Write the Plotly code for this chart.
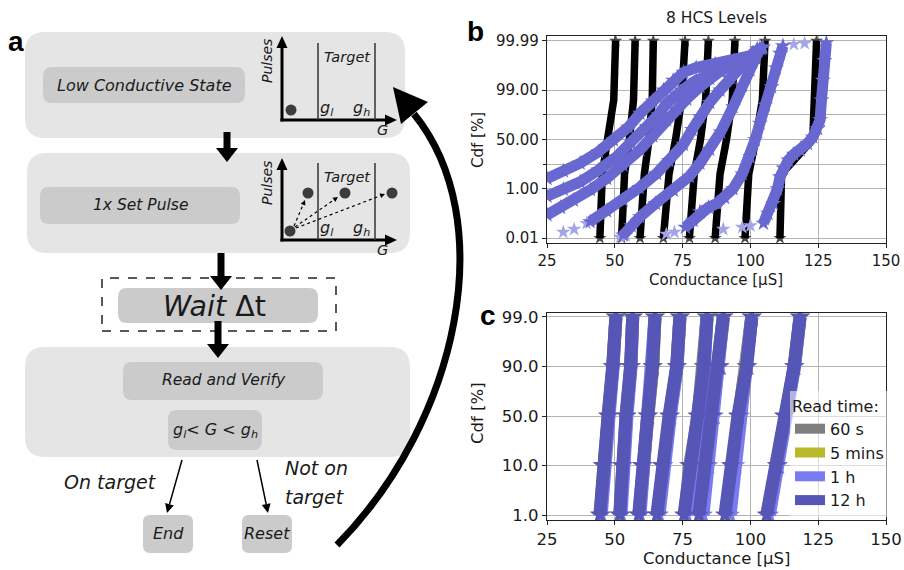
import plotly.graph_objects as go

W, H = 904, 570

# ---------------- panel b: 8 HCS levels ----------------
X_TICKS = [25, 50, 75, 100, 125, 150]
B_Y_TICKVALS = [0, 1, 2, 3, 4]
B_Y_TICKTEXT = ["0.01", "1.00", "50.00", "99.00", "99.99"]
B_Y_MINOR = [1.5, 2.5]

# initial read (black): conductance [uS] at cdf-scale positions
B_INIT_POS = [0.0, 1.3, 2.0, 2.8, 4.0]
B_INIT_G = [
    [44.5, 45.4, 47.3, 49.6, 50.3],
    [52.5, 53.6, 55.4, 56.9, 57.5],
    [59.3, 60.9, 62.6, 63.8, 64.2],
    [67.9, 70.0, 72.4, 74.6, 75.9],
    [77.5, 79.3, 81.6, 83.5, 84.5],
    [87.0, 88.8, 91.2, 93.3, 94.3],
    [98.0, 99.4, 102.0, 104.4, 105.4],
    [110.9, 111.5, 123.0, 123.8, 124.4],
]

# relaxed distributions (blue), one band per level
B_RELAX_G = [
    [25, 31, 37.2, 44, 49.5, 55, 59.3, 64, 67.9, 71.5, 75.3, 80, 87, 94, 100, 104.5],
    [25, 31, 37.2, 44, 50.7, 56, 61.8, 66, 69.1, 72.5, 76.5, 80, 85.1, 93.6, 100, 104],
    [25, 30, 34.7, 41, 47, 53, 59.3, 64, 69.1, 73, 76.5, 81.4, 85, 88.8, 94, 99.9, 104.6],
    [40.9, 47, 53.1, 59, 65.4, 70, 75.3, 78.5, 81.4, 85, 88.8, 92.5, 96.2, 99.5, 102.5],
    [53.1, 56, 59.3, 65, 71.6, 77.5, 81.4, 85, 89, 93.6, 97, 99.9, 102, 103.5],
    [76, 78.9, 81.4, 84.5, 87.6, 90.5, 93.6, 97, 99.9, 101.8, 103.5, 105.5, 107.8, 109.5, 110.9, 112],
    [104.8, 106.5, 108.5, 110, 110.9, 112.2, 114, 116, 118.3, 121, 123, 124.8, 125.7, 126.2, 126.7, 127.3, 128],
]
B_RELAX_POS = [
    [1.21, 1.36, 1.52, 1.75, 1.99, 2.25, 2.53, 2.78, 3.0, 3.2, 3.36, 3.46, 3.53, 3.6, 3.7, 3.86],
    [0.85, 0.99, 1.14, 1.38, 1.65, 1.95, 2.26, 2.5, 2.73, 2.92, 3.07, 3.2, 3.34, 3.52, 3.66, 3.84],
    [0.47, 0.62, 0.77, 0.98, 1.21, 1.48, 1.79, 2.07, 2.4, 2.62, 2.82, 3.07, 3.24, 3.38, 3.52, 3.68, 3.88],
    [0.33, 0.55, 0.77, 1.02, 1.31, 1.57, 1.9, 2.2, 2.46, 2.75, 3.0, 3.25, 3.48, 3.65, 3.84],
    [0.06, 0.25, 0.43, 0.7, 0.97, 1.25, 1.52, 1.8, 2.15, 2.66, 3.1, 3.41, 3.65, 3.85],
    [0.22, 0.36, 0.53, 0.62, 0.7, 0.82, 1.0, 1.3, 1.65, 2.0, 2.33, 2.7, 3.07, 3.45, 3.75, 3.9],
    [0.3, 0.5, 0.7, 1.0, 1.24, 1.42, 1.58, 1.7, 1.79, 1.92, 2.05, 2.22, 2.4, 2.8, 3.2, 3.6, 3.96],
]
# sparse outlying points of the blue bands
B_TAIL_G = [31, 35, 39.6, 52, 54, 69, 72, 116, 120, 90, 97, 100]
B_TAIL_POS = [0.12, 0.18, 0.3, 0.02, 0.05, 0.08, 0.12, 3.93, 3.95, 0.18, 0.22, 0.25]

# ---------------- panel c: retention over read time ----------------
C_Y_TICKVALS = [0, 1, 2, 3, 4]
C_Y_TICKTEXT = ["1.0", "10.0", "50.0", "90.0", "99.0"]
C_POS = [0, 1, 2, 3, 4]
READ_TIMES = ["60 s", "5 mins", "1 h", "12 h"]
READ_COLORS = ["#7f7f7f", "#b8b82a", "#7b7bf0", "#5656b6"]
C_G_60S = [
    [44.6, 45.6, 47.6, 49.3, 50.4], [51.9, 52.7, 54.2, 55.9, 56.6],
    [58.9, 60.1, 62.2, 64.0, 64.8], [65.7, 67.5, 70.2, 72.9, 74.0],
    [75.8, 77.6, 80.7, 82.9, 84.0], [81.7, 83.6, 86.0, 88.5, 90.0],
    [91.0, 93.2, 95.6, 98.7, 100.5], [106.3, 109.9, 112.5, 116.2, 118.3],
]
C_G_5MIN = [
    [44.7, 45.7, 47.7, 49.3, 50.4], [52.0, 52.8, 54.3, 55.9, 56.6],
    [59.0, 60.2, 62.2, 64.0, 64.8], [65.9, 67.6, 70.3, 72.9, 74.0],
    [76.0, 77.8, 80.8, 82.9, 84.0], [82.0, 83.9, 86.2, 88.6, 90.0],
    [91.5, 93.6, 95.8, 98.8, 100.5], [106.5, 110.0, 112.6, 116.2, 118.3],
]
C_G_1H = [
    [45.0, 46.0, 47.9, 49.4, 50.4], [52.3, 53.1, 54.5, 56.0, 56.6],
    [59.3, 60.5, 62.4, 64.0, 64.8], [66.3, 68.0, 70.5, 73.0, 74.0],
    [76.5, 78.2, 81.0, 83.0, 84.0], [82.5, 84.5, 86.6, 88.8, 90.0],
    [92.5, 94.5, 96.3, 99.0, 100.5], [107.0, 110.3, 112.8, 116.3, 118.3],
]
C_G_12H = [
    [44.5, 45.5, 47.5, 49.2, 50.4], [51.8, 52.6, 54.1, 55.8, 56.6],
    [58.8, 60.0, 62.1, 63.9, 64.8], [65.5, 67.3, 70.0, 72.8, 74.0],
    [75.5, 77.4, 80.5, 82.8, 84.0], [81.0, 83.2, 85.8, 88.4, 90.0],
    [90.6, 92.8, 95.4, 98.6, 100.5], [106.0, 109.7, 112.4, 116.1, 118.3],
]
C_SERIES = [C_G_60S, C_G_5MIN, C_G_1H, C_G_12H]

BLUE = "#6868d0"
FONT = "DejaVu Sans"

fig = go.Figure()

# ---- panel b traces ----
for g in B_INIT_G:
    fig.add_trace(go.Scatter(x=g, y=B_INIT_POS, mode="lines", line=dict(color="black", width=7.5),
                             showlegend=False, xaxis="x", yaxis="y"))
    fig.add_trace(go.Scatter(x=[g[0], g[-1]], y=[B_INIT_POS[0], B_INIT_POS[-1]], mode="markers",
                             marker=dict(symbol="star", size=10, color="black", opacity=0.7),
                             showlegend=False, xaxis="x", yaxis="y"))
fig.add_trace(go.Scatter(x=B_TAIL_G, y=B_TAIL_POS, mode="markers",
                         marker=dict(symbol="star", size=11, color="#a4a4e8"),
                         showlegend=False, xaxis="x", yaxis="y"))
for g, p in zip(B_RELAX_G, B_RELAX_POS):
    fig.add_trace(go.Scatter(x=g, y=p, mode="lines+markers", line=dict(color=BLUE, width=11),
                             marker=dict(symbol="star", size=12, color=BLUE),
                             showlegend=False, xaxis="x", yaxis="y"))

# ---- panel c traces ----
for name, color, series in zip(READ_TIMES, READ_COLORS, C_SERIES):
    for i, g in enumerate(series):
        fig.add_trace(go.Scatter(x=g, y=C_POS, mode="lines", line=dict(color=color, width=13),
                                 name=name, legendgroup=name, showlegend=(i == 0),
                                 xaxis="x2", yaxis="y2"))
        fig.add_trace(go.Scatter(x=g, y=C_POS, mode="markers",
                                 marker=dict(symbol="star", size=15, color=color),
                                 legendgroup=name, showlegend=False, xaxis="x2", yaxis="y2"))

# ---------------- panel a: programming flowchart ----------------
def px(x):
    return x / W


def py(y):
    return 1 - y / H


def pt(x, y):
    return f"{px(x):.5f},{py(y):.5f}"


shapes = []
annos = []


def path(d, fill=None, color="black", width=0, dash=None):
    shapes.append(dict(type="path", path=d, xref="paper", yref="paper",
                       fillcolor=fill if fill else "rgba(0,0,0,0)",
                       line=dict(color=color, width=width, dash=dash)))


def rrect(x0, y0, x1, y1, r, fill):
    d = (f"M{pt(x0 + r, y0)} L{pt(x1 - r, y0)} Q{pt(x1, y0)} {pt(x1, y0 + r)} "
         f"L{pt(x1, y1 - r)} Q{pt(x1, y1)} {pt(x1 - r, y1)} L{pt(x0 + r, y1)} "
         f"Q{pt(x0, y1)} {pt(x0, y1 - r)} L{pt(x0, y0 + r)} Q{pt(x0, y0)} {pt(x0 + r, y0)} Z")
    path(d, fill=fill, color=fill, width=0)


def tri(a, b, c, color="black"):
    path(f"M{pt(*a)} L{pt(*b)} L{pt(*c)} Z", fill=color, color=color, width=0)


def seg(x0, y0, x1, y1, width=1.5, color="black", dash=None):
    shapes.append(dict(type="line", xref="paper", yref="paper", x0=px(x0), y0=py(y0),
                       x1=px(x1), y1=py(y1), line=dict(color=color, width=width, dash=dash)))


def arrow(x0, y0, x1, y1, width=1.5, hl=8, hw=4, color="black", dash=None):
    dx, dy = x1 - x0, y1 - y0
    n = (dx * dx + dy * dy) ** 0.5
    ux, uy = dx / n, dy / n
    bx, by = x1 - ux * hl, y1 - uy * hl
    seg(x0, y0, bx, by, width, color, dash)
    tri((x1, y1), (bx - uy * hw, by + ux * hw), (bx + uy * hw, by - ux * hw), color)


def down_arrow(x, y0, y1, sw=7, hw=11, hl=14):
    shapes.append(dict(type="rect", xref="paper", yref="paper", x0=px(x - sw / 2), x1=px(x + sw / 2),
                       y0=py(y0), y1=py(y1 - hl + 1), fillcolor="black", line=dict(width=0)))
    tri((x - hw, y1 - hl), (x + hw, y1 - hl), (x, y1))


def dot(cx, cy, r=5.5, color="#3c3c3c"):
    shapes.append(dict(type="circle", xref="paper", yref="paper", x0=px(cx - r), x1=px(cx + r),
                       y0=py(cy + r), y1=py(cy - r), fillcolor=color, line=dict(width=0)))


def text(x, y, s, size=15, angle=0, color="#1a1a1a", family=FONT, anchor="center", style="normal"):
    annos.append(dict(x=px(x), y=py(y), xref="paper", yref="paper", text=s, showarrow=False,
                      xanchor=anchor, yanchor="middle", textangle=angle,
                      font=dict(size=size, color=color, family=family, style=style)))


OUTER, INNER = "#e5e5e5", "#cbcbcb"
IT = "italic"

# main blocks
rrect(25, 32, 405, 138, 20, OUTER)
rrect(43, 67, 245, 103, 9, INNER)
text(144, 85, "Low Conductive State", 16, style=IT)

rrect(27, 153, 410, 253, 20, OUTER)
rrect(40, 187, 240, 224, 9, INNER)
text(140, 205, "1x Set Pulse", 15.5, style=IT)

shapes.append(dict(type="rect", xref="paper", yref="paper", x0=px(102), x1=px(336), y0=py(331),
                   y1=py(278), line=dict(color="#222", width=1.5, dash="dash"),
                   fillcolor="rgba(0,0,0,0)"))
rrect(118, 288, 318, 323, 9, INNER)
text(214, 306, "<i>Wait</i> \u0394t", 28.5)

rrect(25, 347, 410, 457, 20, OUTER)
rrect(123, 362, 323, 400, 9, INNER)
text(224, 380, "Read and Verify", 15.5, style=IT)
rrect(168, 410, 262, 450, 9, INNER)
text(215, 430, "g<sub>l</sub>&lt; G &lt; g<sub>h</sub>", 16, style=IT)

rrect(143, 515, 193, 553, 7, INNER)
text(168, 533, "End", 16, style=IT)
rrect(242, 515, 292, 553, 7, INNER)
text(267, 533, "Reset", 16, style=IT)

# flow arrows
down_arrow(227, 132, 162)
down_arrow(221, 253, 290)
down_arrow(218, 321, 358)
arrow(182, 460, 167, 513, width=1.5, hl=9, hw=4.5)
arrow(257, 460, 268, 513, width=1.5, hl=9, hw=4.5)
text(110, 482, "On target", 19, style=IT)
text(283, 468, "Not on", 19, anchor="left", style=IT)
text(283, 497, "target", 19, anchor="left", style=IT)

# return arrow back to the low conductive state
path(f"M{pt(337, 545)} C{pt(460, 420)} {pt(500, 220)} {pt(414, 114)}", color="black", width=7)
tri((393, 87), (401, 124), (428, 102))


def mini_chart(ax_y, top, line_top):
    seg(282, ax_y + 1.5, 282, top + 10, width=3)
    tri((282, top), (276.5, top + 12), (287.5, top + 12))
    seg(280.5, ax_y, 386, ax_y, width=3)
    tri((397, ax_y), (385, ax_y - 5.5), (385, ax_y + 5.5))
    seg(318, line_top, 318, ax_y, width=1.5, color="#333")
    seg(375, line_top, 375, ax_y, width=1.5, color="#333")
    text(347, line_top + 14, "Target", 14.5, style=IT)
    text(267, top + 25, "Pulses", 14, angle=-90, style=IT)
    text(327, ax_y - 12, "g<sub>l</sub>", 16, style=IT)
    text(361, ax_y - 12, "g<sub>h</sub>", 16, style=IT)
    text(382, ax_y + 10, "G", 14.5, style=IT)


mini_chart(120, 36, 43)
dot(291, 110)
mini_chart(240, 158, 163)
dot(290, 231)
dot(308, 193)
dot(345, 193)
dot(392, 193)
arrow(294, 226, 305, 200, width=1.2, hl=5, hw=2.5, dash="dot")
arrow(295, 227, 338, 197, width=1.2, hl=5, hw=2.5, dash="dot")
arrow(296, 228, 385, 194, width=1.2, hl=5, hw=2.5, dash="dot")

# panel letters
text(16, 41, "<b>a</b>", 28, color="black", family="Liberation Sans")
text(475, 32, "<b>b</b>", 28, color="black", family="Liberation Sans")
text(488, 316, "<b>c</b>", 28, color="black", family="Liberation Sans")

# axis titles for b and c
text(716, 18, "8 HCS Levels", 15.5)
text(716, 280, "Conductance [\u00b5S]", 15)
text(478, 140, "Cdf [%]", 15, angle=-90)
text(716, 558, "Conductance [\u00b5S]", 16.5)
text(477, 413, "Cdf [%]", 16.5, angle=-90)

GRID = "#b4b4b4"
axis_common = dict(showgrid=True, gridcolor=GRID, gridwidth=1, zeroline=False, showline=True,
                   mirror=True, linecolor="#222", linewidth=1.2, ticks="outside", ticklen=4,
                   tickcolor="#222")

fig.update_layout(
    width=W, height=H, margin=dict(l=0, r=0, t=0, b=0, autoexpand=False),
    paper_bgcolor="white", plot_bgcolor="white",
    font=dict(family=FONT, color="#1a1a1a"),
    shapes=shapes, annotations=annos,
    xaxis=dict(domain=[px(547), px(886)], range=[25, 150], tickvals=X_TICKS, anchor="y",
               tickfont=dict(size=15), **axis_common),
    yaxis=dict(domain=[py(243), py(36)], range=[-0.1, 4.1], tickvals=B_Y_TICKVALS,
               ticktext=B_Y_TICKTEXT, anchor="x", tickfont=dict(size=15),
               minor=dict(tickvals=B_Y_MINOR, showgrid=True, gridcolor=GRID, ticks="outside",
                          ticklen=3, tickcolor="#222"),
               **axis_common),
    xaxis2=dict(domain=[px(547), px(886)], range=[25, 150], tickvals=X_TICKS, anchor="y2",
                tickfont=dict(size=16.5), **axis_common),
    yaxis2=dict(domain=[py(520), py(313)], range=[-0.1, 4.08], tickvals=C_Y_TICKVALS,
                ticktext=C_Y_TICKTEXT, anchor="x2", tickfont=dict(size=16.5), **axis_common),
    legend=dict(x=px(790), y=py(391), xanchor="left", yanchor="top",
                bgcolor="rgba(255,255,255,0.55)", borderwidth=0,
                font=dict(size=16, family=FONT), tracegroupgap=0,
                title=dict(text="Read time:", font=dict(size=16, family=FONT))),
)

fig.write_html("out.html")
